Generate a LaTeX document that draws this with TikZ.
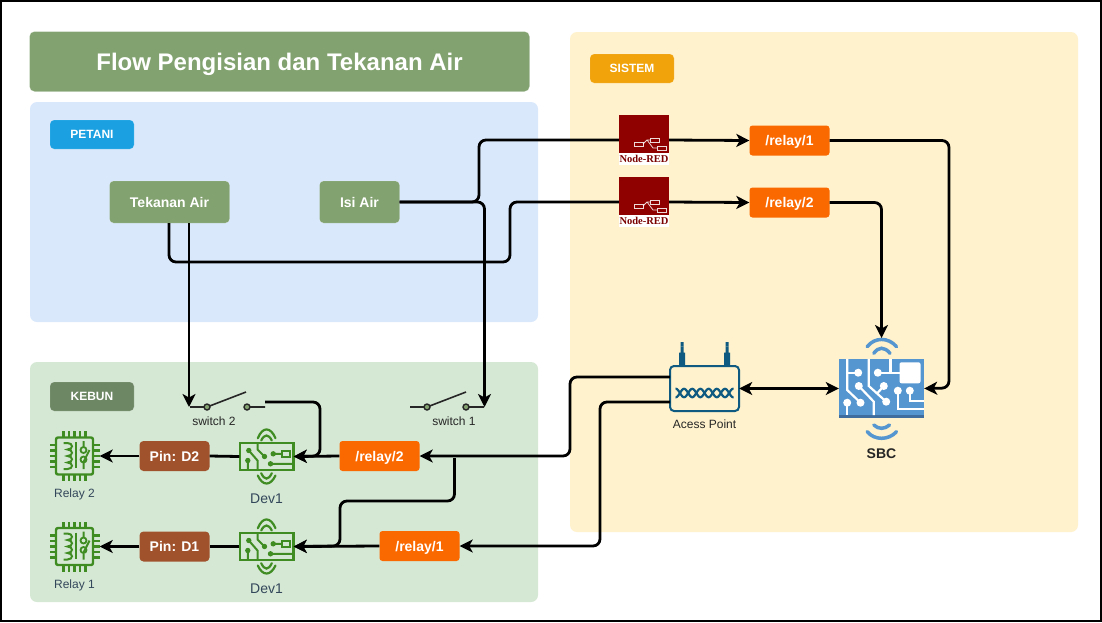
\documentclass[tikz,border=0pt]{standalone}
\usepackage{fontspec}
\setmainfont{Liberation Sans}
\newfontfamily\redfont{Liberation Serif}
\usepackage{tikz}
\usetikzlibrary{arrows.meta}
\definecolor{zonePetani}{HTML}{DAE8FC}
\definecolor{zoneKebun}{HTML}{D5E8D4}
\definecolor{zoneSistem}{HTML}{FFF2CC}
\definecolor{sageBox}{HTML}{82A26F}
\definecolor{topicBox}{HTML}{FA6800}
\definecolor{pinBox}{HTML}{A0522D}
\definecolor{tagSistem}{HTML}{F0A30A}
\definecolor{tagPetani}{HTML}{1BA1E2}
\definecolor{tagKebun}{HTML}{6D8764}
\definecolor{circuitGreen}{HTML}{3F8C22}
\definecolor{sbcBlue}{HTML}{5596D0}
\definecolor{sbcDark}{HTML}{3F6D9E}
\definecolor{apBlue}{HTML}{0E5A80}
\definecolor{redBlock}{HTML}{8F0000}
\definecolor{labelInk}{HTML}{33475B}
\tikzset{
  zone/.style={rounded corners=7pt},
  tagbox/.style={rounded corners=4pt,minimum width=84pt,minimum height=29pt,inner sep=0pt,text=white,text height=8.6pt,text depth=0pt,font=\bfseries\fontsize{12}{14}\selectfont,draw=white,draw opacity=.35},
  sagebox/.style={rounded corners=4pt,fill=sageBox,draw=white,draw opacity=.35,minimum height=42pt,inner sep=0pt,text=white,text height=10pt,text depth=0pt,font=\bfseries\fontsize{14}{16}\selectfont},
  topicbox/.style={rounded corners=3pt,fill=topicBox,minimum width=80pt,minimum height=30pt,inner sep=0pt,text=white,text height=10pt,text depth=0pt,font=\bfseries\fontsize{14}{16}\selectfont},
  pinbox/.style={rounded corners=4pt,fill=pinBox,minimum width=70pt,minimum height=30pt,inner sep=0pt,text=white,text height=10pt,text depth=0pt,font=\bfseries\fontsize{14}{16}\selectfont},
  slot/.style={inner sep=0pt,minimum width=#1},
  caption/.style={inner sep=0pt,font=\fontsize{12}{14}\selectfont},
  wire/.style={line width=2.8pt,black,rounded corners=7pt,-{Stealth[length=13pt,width=13pt,inset=3.5pt]}},
  plainwire/.style={line width=2.8pt,black,rounded corners=7pt},
  bothwire/.style={wire,{Stealth[length=13pt,width=13pt,inset=3.5pt]}-{Stealth[length=13pt,width=13pt,inset=3.5pt]}},
  relaychip/.pic={
    \draw[circuitGreen,line width=2.4pt,rounded corners=2pt] (-18.5,-18.5) rectangle (18.5,18.5);
    \foreach \t in {-11,-5.5,0,5.5,11}{
      \draw[circuitGreen,line width=2.2pt] (\t,-18.5) -- (\t,-25) (\t,18.5) -- (\t,25) (-18.5,\t) -- (-25,\t) (18.5,\t) -- (25,\t);
    }
    \draw[circuitGreen,line width=2pt] (-11,-13) -- (-7,-13) .. controls (-1,-13) and (-1,-6.5) .. (-7,-6.5) .. controls (-1,-6.5) and (-1,0) .. (-7,0) .. controls (-1,0) and (-1,6.5) .. (-7,6.5) .. controls (-1,6.5) and (-1,13) .. (-7,13) -- (-11,13);
    \draw[circuitGreen,line width=2pt] (1,-14) -- (1,12);
    \draw[circuitGreen,line width=2pt] (9,-15) -- (9,-9.5) (9,7) -- (9,13) (9,6) -- (15,-6);
    \draw[circuitGreen,line width=1.8pt] (9,-6) circle (3) (9,3.5) circle (3);
  },
  boardicon/.pic={
    \draw[circuitGreen,line width=2.4pt] (-26.7,-13.5) rectangle (27,13.5);
    \draw[circuitGreen,line width=2pt] (-9,-13) -- (-9,-7) -- (-2,0);
    \draw[circuitGreen,line width=2pt] (-17.7,-6) -- (-9,4) -- (-9,13) (-18.7,4) -- (-18.7,13) (6.7,-2.7) -- (15.7,-2.7) (4,7.3) -- (27,7.3);
    \fill[circuitGreen] (-17.7,-6) circle (2.7) (-2,0) circle (2.7) (-18.7,4) circle (2.7) (6.7,-2.7) circle (2.7) (4,7.3) circle (2.7);
    \draw[circuitGreen,line width=2pt] (15.7,-6) rectangle (23,0.7);
    \draw[circuitGreen,line width=2.2pt,line cap=round] (-8.7,-18.3) .. controls (-4,-30) and (4,-30) .. (9,-18.3) (-5.3,-16) .. controls (-2,-22.7) and (2,-22.7) .. (5.3,-16);
    \draw[circuitGreen,line width=2.2pt,line cap=round] (-8.7,19) .. controls (-4,29.7) and (4,29.7) .. (9,19) (-5.3,16.7) .. controls (-2,23.8) and (2,23.8) .. (5.3,16.7);
  },
  sbcicon/.pic={
    \fill[sbcBlue] (-42.5,-29) rectangle (42.5,30);
    \fill[sbcDark] (-42.5,27) rectangle (42.5,30);
    \begin{scope}[white,line width=2.2pt]
      \draw (-34.3,-29) -- (-34.3,2) -- (-21,14.7);
      \draw (-34.3,-15.3) -- (-23.3,-15.3);
      \draw (-34.3,14.7) -- (-34.3,27);
      \draw (-22.7,-2) -- (-7.7,13.7) -- (-7.7,27);
      \draw (-12.7,-29) -- (-12.7,-2) -- (4.7,13.7);
      \draw (2.3,-2) -- (-4.3,5.3);
      \draw (-3.7,-15.3) -- (19,-15.3);
      \draw (9,-29) -- (9,-15.3);
      \draw (16.3,2.7) -- (16.3,21.3) -- (42.5,21.3);
      \draw (28.3,2.7) -- (28.3,12.7) -- (42.5,12.7);
      \fill (-21,14.7) circle (4) (-23.3,-15.3) circle (4) (-34.3,14.7) circle (4) (-22.7,-2) circle (4) (4.7,13.7) circle (4) (2.3,-2) circle (4) (-3.7,-15.3) circle (4) (16.3,2.7) circle (4) (28.3,2.7) circle (4);
      \fill[rounded corners=2pt] (18,-25.7) rectangle (39,-4.7);
    \end{scope}
    \draw[sbcBlue,line width=3.5pt,line cap=round] (-14.3,-41.3) .. controls (-7,-51) and (7,-51) .. (15,-41.3) (-7.7,-34.7) .. controls (-3,-41.4) and (3,-41.4) .. (8.5,-34.7);
    \draw[sbcBlue,line width=3.5pt,line cap=round] (-14.3,43.7) .. controls (-7,52.5) and (7,52.5) .. (15,43.7) (-7.7,37) .. controls (-3,41.4) and (3,41.4) .. (8,37);
  },
  apicon/.pic={
    \fill[apBlue] (-25.5,-22.5) rectangle (-19.5,-36) (-24,-36) rectangle (-21,-42);
    \fill[apBlue] (19.5,-22.5) rectangle (25.5,-36) (21,-36) rectangle (24,-42);
    \fill[apBlue] (-24,-46.5) rectangle (-21,-42) (21,-46.5) rectangle (24,-42);
    \draw[apBlue,line width=2pt,rounded corners=4pt,fill=zoneSistem] (-34.5,-22.5) rectangle (34.5,22.5);
    \draw[apBlue,line width=2.2pt] plot[domain=-29:29,samples=90] (\x,{4.5+4.2*sin(\x*22)});
    \draw[apBlue,line width=2.2pt] plot[domain=-29:29,samples=90] (\x,{4.5-4.2*sin(\x*22)});
  },
  redblock/.pic={
    \fill[white] (-25,13) rectangle (25,25);
    \fill[redBlock] (-25,-25) rectangle (25,13);
    \draw[white,opacity=.85,line width=.8pt] (-10,2) rectangle (-1,6) (6,-2) rectangle (15,2) (13,6) rectangle (22,10);
    \draw[white,opacity=.85,line width=.8pt] (-1,4) -- (3,0) -- (6,0) (3,0) -- (9,8) -- (13,8);
    \node[inner sep=0pt,text=redBlock!85!black,font=\redfont\bfseries\fontsize{10.5}{11}\selectfont] at (0,19) {Node-RED};
  }
}
\begin{document}
\begin{tikzpicture}[x=1pt,y=-1pt]
\useasboundingbox (0,0) rectangle (1102,622);
% frame
\draw[line width=2pt,fill=white] (1,1) rectangle (1101,621);
% zones
\fill[zone,zonePetani] (30,102) rectangle (538,322);
\fill[zone,zoneKebun] (30,362) rectangle (538,602);
\fill[zone,zoneSistem] (570,32) rectangle (1078,532);
% title
\node[fill=sageBox,draw=white,draw opacity=.35,rounded corners=5pt,minimum width=500pt,minimum height=60pt,inner sep=0pt,text=white,text height=17.2pt,text depth=0pt,font=\bfseries\fontsize{24}{28}\selectfont] (title) at (279.5,61.5) {Flow Pengisian dan Tekanan Air};
% tags
\node[tagbox,fill=tagSistem] (tagsistem) at (632,68.5) {SISTEM};
\node[tagbox,fill=tagPetani] (tagpetani) at (92,134.5) {PETANI};
\node[tagbox,fill=tagKebun] (tagkebun) at (92,396.5) {KEBUN};
% petani
\node[sagebox,minimum width=120pt] (tekanan) at (169.5,202) {Tekanan Air};
\node[sagebox,minimum width=80pt] (isi) at (359.5,202) {Isi Air};
\coordinate (tekananA) at (169,223);
\coordinate (tekananB) at (189,223);
% sistem
\node[slot=50pt,minimum height=50pt] (redone) at (644,140) {};
\node[slot=50pt,minimum height=50pt] (redtwo) at (644,202) {};
\pic at (redone) {redblock};
\pic at (redtwo) {redblock};
\node[topicbox] (sysone) at (789.5,140.5) {/relay/1};
\node[topicbox] (systwo) at (789.5,202.5) {/relay/2};
\node[slot=85pt,minimum height=59pt] (sbc) at (881.5,388.5) {};
\pic at (881.5,388) {sbcicon};
\node[inner sep=0pt,font=\bfseries\fontsize{14}{16}\selectfont,text=black!85] (sbclabel) at (881.5,454) {SBC};
\node[slot=69pt,minimum height=45pt] (ap) at (704.5,388.5) {};
\pic at (ap) {apicon};
\node[caption,text=black!85] (aplabel) at (704.5,424.5) {Acess Point};
\coordinate (apA) at (670,377);
\coordinate (apB) at (670,402);
% kebun
\node[topicbox] (kebtwo) at (379.5,456) {/relay/2};
\node[topicbox] (kebone) at (419.5,546) {/relay/1};
\node[slot=54pt,minimum height=27pt] (devtwo) at (266.5,456.5) {};
\node[slot=54pt,minimum height=27pt] (devone) at (266.5,546.5) {};
\pic at (devtwo) {boardicon};
\pic at (devone) {boardicon};
\node[inner sep=0pt,text=labelInk,font=\fontsize{14}{16}\selectfont] (devtwolabel) at (266.5,498.5) {Dev1};
\node[inner sep=0pt,text=labelInk,font=\fontsize{14}{16}\selectfont] (devonelabel) at (266.5,588.5) {Dev1};
\node[pinbox] (pintwo) at (174.5,456) {Pin: D2};
\node[pinbox] (pinone) at (174.5,546.5) {Pin: D1};
\node[slot=50pt,minimum height=50pt] (relaytwo) at (74.5,456) {};
\node[slot=50pt,minimum height=50pt] (relayone) at (74.5,546.5) {};
\pic at (relaytwo) {relaychip};
\pic at (relayone) {relaychip};
\node[caption,text=labelInk] (relaytwolabel) at (74.5,494.5) {Relay 2};
\node[caption,text=labelInk] (relayonelabel) at (74.5,585.5) {Relay 1};
% switches
\coordinate (swtwoL) at (190,407);
\coordinate (swtwoR) at (265,407);
\coordinate (swoneL) at (410,407);
\coordinate (swoneR) at (484,407);
\draw[line width=1.6pt,black!85] (swtwoL) -- (204,407) (250,407) -- (swtwoR) (207,407) -- (246,392);
\draw[line width=1.6pt,black!85] (swoneL) -- (424,407) (469,407) -- (swoneR) (427,407) -- (466,392);
\draw[line width=1.4pt,black!85,fill=sageBox] (207,407) circle (3) (247,407) circle (3) (427,407) circle (3) (466,407) circle (3);
\node[caption,text=black!85] (swtwolabel) at (214,421) {switch 2};
\node[caption,text=black!85] (swonelabel) at (454,421) {switch 1};
% petani to sistem
\draw[plainwire] (tekananA) -- (169,262) -- (510,262) -- (510,202) -- (redtwo.west);
\draw[wire] (tekananB) -- (189,407);
\draw[plainwire] (isi.east) -- (479,202) -- (479,140) -- (redone.west);
\draw[wire] (isi.east) -- (484.5,202) -- (484.5,407);
% sistem
\draw[wire] (redone.east) -- (sysone.west);
\draw[wire] (redtwo.east) -- (systwo.west);
\draw[wire] (sysone.east) -- (949,140.5) -- (949,388) -- (sbc.east);
\draw[wire] (systwo.east) -- (881.5,202.5) -- (881.5,338);
\draw[bothwire] (ap.east) -- (sbc.west);
% sistem to kebun
\draw[wire] (apA) -- (570,377) -- (570,456) -- (kebtwo.east);
\draw[wire] (apB) -- (600,402) -- (600,546) -- (kebone.east);
\draw[wire] (kebtwo.west) -- (devtwo.east);
\draw[wire] (kebone.west) -- (devone.east);
\draw[wire] (265,402) -- (320,402) -- (320,456) -- (devtwo.east);
\draw[wire] (454.5,458) -- (454.5,501) -- (340,501) -- (340,546) -- (devone.east);
% dev to relay
\draw[plainwire] (devtwo.west) -- (pintwo.east);
\draw[plainwire] (devone.west) -- (pinone.east);
\draw[wire] (pintwo.west) -- (relaytwo.east);
\draw[wire] (pinone.west) -- (relayone.east);
\end{tikzpicture}
\end{document}
